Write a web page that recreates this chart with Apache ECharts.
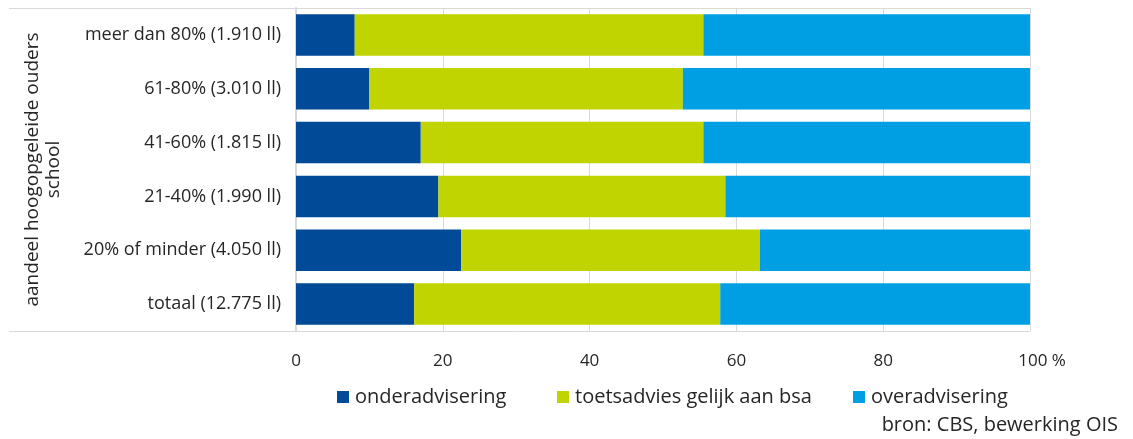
<!DOCTYPE html>
<html>
<head>
<meta charset="utf-8">
<script src="https://cdn.jsdelivr.net/npm/echarts@6/dist/echarts.min.js"></script>
<style>
  html, body { margin: 0; padding: 0; background: #fff; }
  #chart { width: 1133px; height: 439px; }
</style>
</head>
<body>
<div id="chart"></div>
<script>
// categorieen, van boven naar beneden
var categories = ['meer dan 80% (1.910 ll)', '61-80% (3.010 ll)', '41-60% (1.815 ll)',
  '21-40% (1.990 ll)', '20% of minder (4.050 ll)', 'totaal (12.775 ll)']
var seriesNames = ['onderadvisering', 'toetsadvies gelijk aan bsa', 'overadvisering']
var onder = [8.0, 10.0, 17.0, 19.4, 22.5, 16.1]
var toets = [47.5, 42.7, 38.5, 39.1, 40.7, 41.7]
var over = [44.5, 47.3, 44.5, 41.5, 36.8, 42.2]
var xTicks = [0, 20, 40, 60, 80, 100]

var FONT = 'Open Sans'
var TXT = '#262626'
var gridL = 296, gridR = 103, gridT = 8, gridB = 108
var legendLeft = [332, 552, 848]

var chart = echarts.init(document.getElementById('chart'))

// een legenda per reeks, zodat de posities vast liggen
var legends = seriesNames.map(function (name, i) {
  return {
    data: [name],
    left: legendLeft[i],
    top: 382,
    icon: 'rect',
    itemWidth: 12,
    itemHeight: 12,
    itemGap: 0,
    textStyle: { fontSize: 20, color: TXT, fontFamily: FONT, padding: [0, 0, 0, 1] }
  }
})

chart.setOption({
  animation: false,
  textStyle: { fontFamily: FONT, color: TXT },
  color: ['#004a98', '#bfd400', '#009fe3'],
  grid: { left: gridL, right: gridR, top: gridT, bottom: gridB, containLabel: false },
  legend: legends,
  title: {
    text: 'bron: CBS, bewerking OIS',
    right: 10,
    top: 410,
    textStyle: { fontSize: 20, fontWeight: 'normal', color: TXT, fontFamily: FONT }
  },
  xAxis: {
    type: 'value',
    min: xTicks[0],
    max: xTicks[xTicks.length - 1],
    interval: xTicks[1] - xTicks[0],
    axisLine: { show: false },
    axisTick: { show: false },
    splitLine: { show: true, lineStyle: { color: '#d9d9d9', width: 1 } },
    axisLabel: {
      margin: 22,
      fontSize: 17,
      color: TXT,
      fontFamily: FONT,
      formatter: function (v) {
        return v === 100 ? '{p|100 %}' : String(v)
      },
      rich: { p: { fontSize: 17, color: TXT, fontFamily: FONT, padding: [0, 0, 0, 24] } }
    }
  },
  yAxis: {
    type: 'category',
    data: categories,
    inverse: true,
    axisLine: { show: true, lineStyle: { color: '#d9d9d9', width: 2 } },
    axisTick: { show: false },
    axisLabel: { margin: 15, fontSize: 18, color: TXT, fontFamily: FONT },
    name: 'aandeel hoogopgeleide ouders\nschool',
    nameLocation: 'middle',
    nameRotate: 90,
    nameGap: 232,
    nameTextStyle: { fontSize: 19, color: TXT, fontFamily: FONT, lineHeight: 21 }
  },
  graphic: [
    { type: 'line', shape: { x1: 9, y1: gridT + 0.5, x2: 1133 - gridR, y2: gridT + 0.5 },
      style: { stroke: '#d9d9d9', lineWidth: 1 } },
    { type: 'line', shape: { x1: 9, y1: 439 - gridB + 0.5, x2: 1133 - gridR, y2: 439 - gridB + 0.5 },
      style: { stroke: '#d9d9d9', lineWidth: 1 } }
  ],
  series: [
    { name: seriesNames[0], type: 'bar', stack: 'a', data: onder, barCategoryGap: '23%' },
    { name: seriesNames[1], type: 'bar', stack: 'a', data: toets, barCategoryGap: '23%' },
    { name: seriesNames[2], type: 'bar', stack: 'a', data: over, barCategoryGap: '23%' }
  ]
})
</script>
</body>
</html>
